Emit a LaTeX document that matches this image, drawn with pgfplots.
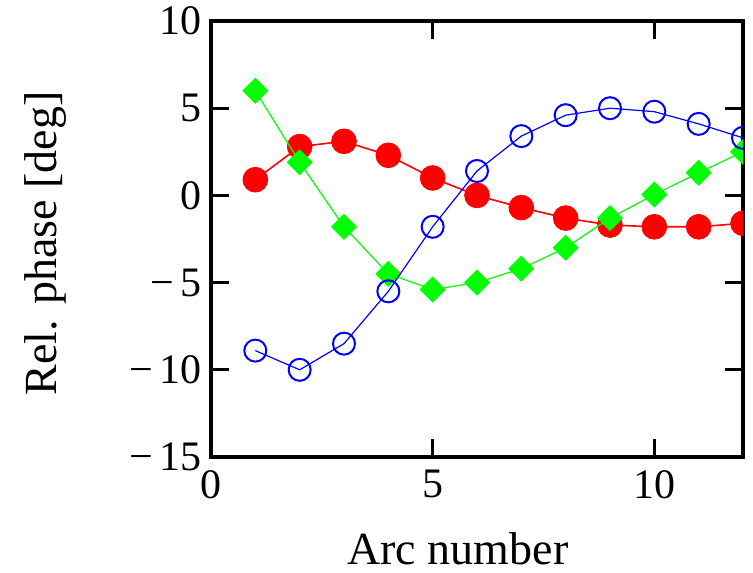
\documentclass[border=0pt]{standalone}
\usepackage{pgfplots}
\pgfplotsset{compat=1.18}
\usepackage{fontspec}
\setmainfont{Liberation Serif}
\begin{document}
\begin{tikzpicture}
\begin{axis}[
  scale only axis, width=266pt, height=218pt,
  xmin=0, xmax=12, ymin=-15, ymax=10,
  xtick={0,5,10}, xticklabels={0,5,10},
  ytick={-15,-10,-5,0,5,10},
  yticklabels={−\,15,−\,10,−\,5,0,5,10},
  tick align=inside, major tick length=9pt,
  axis line style={line width=1.75pt},
  every tick/.style={black, line width=1.4pt},
  ticklabel style={font=\fontsize{21}{24}\selectfont},
  xticklabel style={yshift=-3pt},
  yticklabel style={xshift=-1pt},
  xlabel={Arc number}, ylabel={Rel. phase [deg]},
  label style={font=\fontsize{23}{26}\selectfont},
  xlabel style={at={(axis description cs:0.464,-0.21)}, anchor=center},
  ylabel style={at={(axis description cs:-0.312,0.49)}, anchor=center},
  clip marker paths=true,
]
% red, filled circles
\addplot[only marks, mark=*, mark size=6.2pt, color=red] coordinates {
(1,0.9) (2,2.8) (3,3.1) (4,2.3) (5,1.0) (6,0.0) (7,-0.7) (8,-1.3) (9,-1.7) (10,-1.8) (11,-1.8) (12,-1.6)};
\addplot[red, line width=0.8pt, no marks] coordinates {
(1,0.9) (2,2.8) (3,3.1) (4,2.3) (5,1.0) (6,0.0) (7,-0.7) (8,-1.3) (9,-1.7) (10,-1.8) (11,-1.8) (12,-1.6)};
% green, diamonds
\addplot[only marks, mark=square*, mark size=4.4pt, mark options={rotate=45}, color=green] coordinates {
(1,6.0) (2,1.9) (3,-1.8) (4,-4.5) (5,-5.4) (6,-5.0) (7,-4.2) (8,-3.0) (9,-1.3) (10,0.05) (11,1.3) (12,2.5)};
\addplot[green, line width=0.6pt, no marks] coordinates {
(1,6.0) (2,1.9) (3,-1.8) (4,-4.5) (5,-5.4) (6,-5.0) (7,-4.2) (8,-3.0) (9,-1.3) (10,0.05) (11,1.3) (12,2.5)};
% blue, open circles
\addplot[only marks, mark=o, mark size=5.5pt, mark options={line width=1pt}, color=blue] coordinates {
(1,-8.9) (2,-10.0) (3,-8.5) (4,-5.5) (5,-1.8) (6,1.4) (7,3.4) (8,4.6) (9,5.0) (10,4.8) (11,4.1) (12,3.3)};
\addplot[blue, line width=0.6pt, no marks] coordinates {
(1,-8.9) (2,-10.0) (3,-8.5) (4,-5.5) (5,-1.8) (6,1.4) (7,3.4) (8,4.6) (9,5.0) (10,4.8) (11,4.1) (12,3.3)};
\end{axis}
\pgfresetboundingbox
\path ([shift={(-105.5pt,-57.5pt)}]current axis.south west) rectangle ([shift={(5pt,10.5pt)}]current axis.north east);
\end{tikzpicture}
\end{document}
